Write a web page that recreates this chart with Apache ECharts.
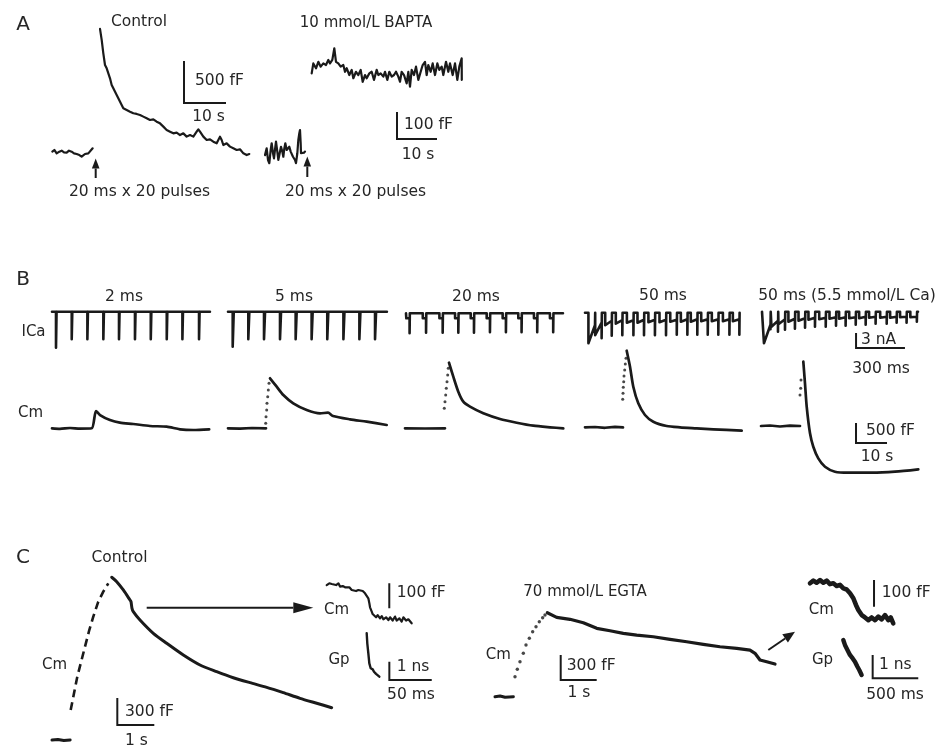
<!DOCTYPE html>
<html><head><meta charset="utf-8">
<script src="https://cdn.jsdelivr.net/npm/echarts@6.0.0/dist/echarts.min.js"></script>
<style>html,body{margin:0;padding:0;background:#fff}#c{width:941px;height:745px}</style>
</head><body><div id="c"></div><script>
// ================= DATA =================
// Panel A : time (s), capacitance change (fF)
const aCtrlPre = [[0.08,4],[0.56,24],[1.11,-16],[1.75,4],[2.30,16],[2.86,-4],[3.49,-8],[4.05,16],[4.68,4],[5.24,-16],[5.87,-24],[6.51,-36],[7.06,-56],[7.46,-36],[7.86,-24],[8.25,-40],[8.65,-16],[9.05,-8],[9.68,44]];
const aCtrlPost = [[11.43,1465],[11.83,1334],[12.22,1175],[12.62,1036],[13.02,996],[13.41,977],[13.81,877],[14.21,798],[14.60,758],[15.0,738],[15.40,679],[15.79,639],[16.19,619],[16.59,560],[16.98,520],[17.78,500],[18.57,480],[19.37,461],[20.16,453],[20.95,441],[21.75,421],[22.54,401],[23.33,381],[24.13,389],[24.92,361],[25.71,341],[26.51,302],[27.30,262],[28.10,242],[28.89,222],[29.68,230],[30.48,202],[31.27,222],[32.06,183],[32.86,202],[33.65,183],[34.44,242],[34.84,270],[35.24,242],[36.03,183],[36.83,143],[37.62,151],[38.41,123],[39.21,103],[40.0,183],[40.40,143],[40.79,83],[41.59,103],[42.38,64],[43.17,44],[43.97,24],[44.76,32],[45.56,-16],[46.35,-36],[46.98,-24]];
const aBaptaPre = [[0,-19],[0.42,6],[0.75,-37],[1.08,-49],[1.42,0],[1.67,25],[2.0,-12],[2.25,-31],[2.58,12],[2.75,31],[3.08,-6],[3.33,-37],[3.67,-12],[4.0,12],[4.33,-6],[4.58,-25],[4.83,6],[5.08,25],[5.42,0],[5.58,-6],[5.83,6],[6.08,12],[6.42,-6],[6.67,-12],[7.0,-25],[7.25,-25],[7.5,-37],[7.75,-49],[8.08,-12],[8.33,37],[8.58,62],[8.75,74],[8.92,25],[9.0,-12],[9.25,-19],[9.42,-15],[9.75,-10],[10.0,-6]];
const aBaptaPost = [[-0.08,-20],[0.33,17],[1.0,-1],[1.58,23],[2.17,5],[2.83,17],[3.5,11],[4.08,30],[4.5,17],[5.08,30],[5.58,73],[6.0,23],[6.58,17],[7.17,5],[7.83,11],[8.25,-14],[8.67,-1],[9.33,-26],[9.92,-7],[10.33,-38],[11.0,-14],[11.58,-26],[12.17,-7],[12.67,-51],[13.25,-26],[13.67,-38],[14.33,-20],[14.92,-14],[15.5,-44],[16.17,-7],[16.58,-26],[17.17,-20],[17.83,-32],[18.25,-14],[18.83,-44],[19.33,-14],[19.92,-32],[20.5,-26],[21.0,-14],[21.58,-32],[22.0,-51],[22.42,-14],[23.0,-26],[23.67,-57],[24.08,-14],[24.5,-69],[24.92,-7],[25.5,-26],[26.0,5],[26.58,-44],[27.17,-14],[27.67,11],[28.25,23],[28.67,-26],[29.08,11],[29.67,-14],[30.17,17],[30.75,-26],[31.33,17],[31.83,-7],[32.42,5],[32.83,-26],[33.5,23],[34.08,-14],[34.5,17],[35.17,-26],[35.75,17],[36.33,-44],[36.83,5],[37.42,36],[37.45,-44]];

// Panel B, ICa : pulse onsets (ms), current amplitudes (nA)
const ica2On = [24.5,121,217,315,411,509,606,704,800,902];
const ica2Peak = [7.2,5.5,5.5,5.5,5.5,5.5,5.5,5.5,5.5,5.5];
const ica5On = [28.8,124.5,220.9,319,415,513,609,708,806,902];
const ica5Peak = [7.0,5.5,5.5,5.5,5.5,5.5,5.5,5.5,5.5,5.5];
const ica20On = [2,103,205,301,397,495,593,689,785,883];
const ica20Plat = [1.0,1.0,1.0,1.0,1.0,1.0,1.0,1.0,1.0,1.0];
const ica20Tail = [4.0,3.9,3.9,3.9,3.9,3.8,3.8,3.8,3.8,3.8];
const ica50On = [21,62,124,189,257,322,389,457,523,588,649,713,778,846,907];
const ica50PlatStart = [6.1,4.5,2.5,2.2,2.0,2.0,1.9,1.9,1.8,1.8,1.8,1.7,1.7,1.7,1.7];
const ica50PlatEnd = [2.5,2.0,1.6,1.5,1.5,1.4,1.4,1.4,1.4,1.3,1.3,1.3,1.3,1.3,1.3];
const ica50Tail = [3.0,5.1,4.6,4.5,4.5,4.5,4.5,4.5,4.4,4.4,4.4,4.4,4.4,4.4,4.4];
const ica55On = [12,58,101,162,224,285,351,414,473,535,596,657,725,786,847,910];
const ica55PlatStart = [6.3,3.0,2.5,2.0,1.8,1.6,1.5,1.4,1.4,1.3,1.3,1.2,1.2,1.2,1.1,1.1];
const ica55PlatEnd = [2.6,1.8,1.5,1.4,1.3,1.2,1.2,1.1,1.1,1.1,1.0,1.0,1.0,1.0,1.0,1.0];
const ica55Tail = [3.5,4.0,3.6,3.4,3.2,3.0,3.0,2.8,2.8,2.6,2.6,2.4,2.4,2.2,2.2,2.0];
const icaPulseMs = [2,5,20,40,40];
const icaEndMs = [969,975,963,951,957];

// Panel B, Cm : time (s), capacitance change (fF)
const cm2 = [[0,0],[2.58,-12],[5.81,8],[9.03,-8],[12.8,0],[14.2,432],[15.5,332],[18.7,207],[21.9,140],[26.2,108],[31.6,58],[37.0,40],[41.3,-25],[45.6,-42],[50.7,-25]];
const cm5Pre = [[0,0],[3.87,-8],[7.74,8],[12.26,0]];
const cm5Dots = [[12.16,125],[12.26,290],[12.48,458],[12.58,625],[12.81,790],[13.0,958],[13.23,1125]];
const cm5Post = [[13.55,1250],[15.71,1040],[17.84,833],[21.06,625],[25.39,458],[29.68,375],[32.26,390],[33.87,308],[39.35,225],[44.74,165],[51.19,83]];
const cm20Pre = [[0,0],[6.45,-5],[12.9,0]];
const cm20Dots = [[12.68,500],[12.9,665],[13.13,833],[13.32,1000],[13.55,1165],[13.77,1333],[13.97,1500]];
const cm20Post = [[14.19,1640],[15.58,1290],[17.19,915],[18.81,665],[20.97,540],[25.26,375],[30.65,233],[36.03,140],[41.39,65],[46.77,25],[51.06,0]];
const cm50Pre = [[0,0],[3.23,8],[6.45,-12],[9.68,12],[12.26,0]];
const cm50Dots = [[12.16,700],[12.26,850],[12.35,1000],[12.48,1140],[12.58,1283],[12.81,1433],[13.0,1583],[13.23,1725]];
const cm50Post = [[13.45,1915],[14.52,1515],[15.58,1015],[17.19,600],[19.35,308],[22.03,140],[26.35,33],[30.65,0],[36.03,-25],[41.39,-50],[50.55,-85]];
const cm55Pre = [[0,0],[2.9,12],[6.13,-12],[9.35,8],[12.58,0]];
const cm55Dots = [[12.58,775],[12.81,943],[12.9,1150]];
const cm55Post = [[13.65,1608],[14.19,1068],[14.74,483],[15.81,-183],[16.87,-518],[18.48,-808],[20.65,-1018],[23.87,-1143],[28.16,-1168],[35.71,-1168],[43.23,-1143],[50.74,-1083]];

// Panel C : time (s), capacitance change (fF); insets time (ms), fF / nS
const c1Pre = [[0,0],[0.16,6],[0.32,-6],[0.49,0]];
const c1Rise = [[0.505,333],[0.595,519],[0.684,704],[0.776,852],[0.892,1037],[1.008,1222],[1.116,1370],[1.251,1537],[1.386,1648],[1.522,1741]];
const c1Decay = [[1.614,1808],[1.749,1759],[1.927,1667],[2.108,1555],[2.135,1537],[2.162,1463],[2.197,1426],[2.378,1333],[2.738,1185],[3.1,1074],[3.549,944],[4.0,833],[4.451,759],[4.9,692],[5.351,637],[5.803,585],[6.251,526],[6.703,463],[7.154,408],[7.559,359]];
const c1InsetCm = [[0,-7],[3.1,0],[5.9,-3],[7.9,3],[11.0,-7],[13.8,0],[15.7,-13],[18.9,-11],[21.6,-16],[23.6,-20],[26.7,-16],[29.5,-27],[31.4,-24],[34.6,-31],[37.3,-27],[39.3,-33],[42.5,-31],[45.2,-40],[47.2,-47],[49.1,-60],[50.3,-80],[51.1,-96],[53.1,-113],[54.2,-123],[55.8,-117],[58.2,-136],[60.1,-127],[62.9,-140],[64.9,-131],[66.8,-144],[70.0,-136],[72.7,-147],[74.7,-136],[77.8,-149],[80.6,-133],[82.5,-149],[85.7,-140],[88.4,-153],[90.4,-136],[93.6,-149],[96.3,-144],[100.2,-160]];
const c1InsetGp = [[0,0],[0.7,-0.55],[1.9,-1.09],[3.1,-1.64],[4.7,-1.91],[7.1,-1.97],[8.6,-2.10],[11.0,-2.22],[12.5,-2.28],[14.9,-2.37]];
const c2Pre = [[0,0],[0.14,8],[0.28,-7],[0.51,0]];
const c2Dots = [[0.556,240],[0.620,329],[0.694,420],[0.787,521],[0.861,620],[0.954,701],[1.046,780],[1.139,840],[1.231,900],[1.324,948],[1.389,980]];
const c2Decay = [[1.453,1008],[1.714,953],[2.083,929],[2.453,888],[2.825,821],[3.194,792],[3.564,761],[3.936,740],[4.397,720],[4.861,689],[5.325,660],[5.786,629],[6.25,600],[6.714,581],[7.083,560],[7.222,521],[7.361,440],[7.547,420],[7.778,392]];
const c2InsetCm = [[0,0],[37,10],[73,2],[110,12],[146,2],[183,10],[219,-3],[256,0],[292,-10],[329,-6],[366,-19],[402,-23],[439,-37],[475,-56],[504,-81],[530,-100],[567,-119],[603,-128],[640,-138],[676,-128],[713,-138],[749,-125],[786,-135],[822,-119],[859,-138],[885,-128],[913,-150]];
const c2InsetGp = [[0,0],[18,-0.21],[37,-0.29],[55,-0.5],[73,-0.64],[103,-0.79],[128,-0.93],[154,-1.14],[175,-1.29],[201,-1.5]];

// Scale bar values [time, amplitude]
const scaleA1 = [10,500], scaleA2 = [10,100];
const scaleBi = [300,3], scaleBm = [10,500];
const scaleC1 = [1,300], scaleC1m = [0,100], scaleC1g = [50,1];
const scaleC2 = [1,300], scaleC2m = [0,100], scaleC2g = [500,1];

// Text
const labels = [
 ['A',23,25,'center',20],['Control',139,22,'center',15.5],['10 mmol/L BAPTA',366,23,'center',15],
 ['500 fF',195,81,'left',15.5],['10 s',208.5,117,'center',15.5],['100 fF',404,125,'left',15.5],['10 s',418,155,'center',15.5],
 ['20 ms x 20 pulses',139.5,192,'center',15.5],['20 ms x 20 pulses',355.5,192,'center',15.5],
 ['B',23,279.5,'center',20],['2 ms',124,297,'center',15.5],['5 ms',294,297,'center',15.5],['20 ms',476,297,'center',15.5],
 ['50 ms',663,296,'center',15.5],['50 ms (5.5 mmol/L Ca)',847,296,'center',15.5],
 ['ICa',33.5,332,'center',15],['Cm',30.5,413,'center',15],
 ['3 nA',861,340,'left',15.5],['300 ms',881,369,'center',15.5],['500 fF',866,431,'left',15.5],['10 s',877,457,'center',15.5],
 ['C',23,558,'center',20],['Control',119.5,558,'center',15.5],['Cm',54.5,665,'center',15],
 ['300 fF',125,712,'left',15.5],['1 s',125,741,'left',15.5],
 ['Cm',336.5,610,'center',15],['100 fF',396.7,593,'left',15.5],['Gp',339,660,'center',15],['1 ns',396.7,667,'left',15.5],['50 ms',411,695,'center',15.5],
 ['70 mmol/L EGTA',585,592,'center',15],['Cm',498.3,655,'center',15],['300 fF',566.7,666,'left',15.5],['1 s',579,693,'center',15.5],
 ['Cm',821.3,610,'center',15],['100 fF',881.7,593,'left',15.5],['Gp',822.5,660,'center',15],['1 ns',879,665,'left',15.5],['500 ms',895,695,'center',15.5]
];

// ================= LAYOUT =================
const INK = '#1a1a1a', TXT = '#262626', FONT = '"DejaVu Sans", sans-serif';
// pixel position of each frame's (0,0), pixels per unit, unit ranges
const frames = {
  A1:  {ox:52,    oy:152,   sx:4.2,    sy:0.084,  xr:[-1,48],    yr:[-400,1550]},
  A2L: {ox:265,   oy:150,   sx:4.0,    sy:0.27,   xr:[-1,11],    yr:[-70,90]},
  A2R: {ox:312,   oy:68,    sx:4.0,    sy:0.27,   xr:[-1,38.5],  yr:[-280,90]},
  I2:  {ox:52,    oy:311.7, sx:0.163,  sy:5.0,    xr:[-5,985],   yr:[-8,1]},
  I5:  {ox:228,   oy:311.7, sx:0.163,  sy:5.0,    xr:[-5,985],   yr:[-8,1]},
  I20: {ox:406,   oy:313.3, sx:0.163,  sy:5.0,    xr:[-5,985],   yr:[-8,1]},
  I50: {ox:585,   oy:312.7, sx:0.163,  sy:5.0,    xr:[-5,985],   yr:[-8,1]},
  I55: {ox:762,   oy:311.7, sx:0.163,  sy:5.0,    xr:[-5,985],   yr:[-8,1]},
  M2:  {ox:52,    oy:428.3, sx:3.1,    sy:0.04,   xr:[-1,52],    yr:[-1300,2000]},
  M5:  {ox:228,   oy:428.3, sx:3.1,    sy:0.04,   xr:[-1,52],    yr:[-1300,2000]},
  M20: {ox:405,   oy:428.3, sx:3.1,    sy:0.04,   xr:[-1,52],    yr:[-1300,2000]},
  M50: {ox:585,   oy:427.3, sx:3.1,    sy:0.04,   xr:[-1,52],    yr:[-1300,2000]},
  M55: {ox:761,   oy:426,   sx:3.1,    sy:0.04,   xr:[-1,52],    yr:[-1300,2000]},
  C1:  {ox:52,    oy:740,   sx:37,     sy:0.09,   xr:[-0.1,7.8], yr:[-40,1900]},
  C1m: {ox:326.7, oy:583.3, sx:0.848,  sy:0.25,   xr:[-2,102],   yr:[-170,15]},
  C1g: {ox:366.7, oy:633.3, sx:0.848,  sy:18.3,   xr:[-2,80],    yr:[-2.7,0.2]},
  C2:  {ox:495,   oy:696.7, sx:36,     sy:0.0833, xr:[-0.2,7.9], yr:[-40,1100]},
  C2m: {ox:810,   oy:583.3, sx:0.0912, sy:0.267,  xr:[-10,930],  yr:[-170,25]},
  C2g: {ox:843.3, oy:640,   sx:0.0912, sy:23.3,   xr:[-10,830],  yr:[-1.8,0.2]}
};
// scale bar corners, in the units of the frame they sit in
const scaleBars = [
  ['A1', 31.43, 583, scaleA1], ['A2R', 21.25, -263, scaleA2],
  ['I55', 577, -7.26, scaleBi], ['M55', 30.65, -425, scaleBm],
  ['C1', 1.765, 167, scaleC1], ['C1m', 73.8, -100, scaleC1m], ['C1g', 26.7, -2.55, scaleC1g],
  ['C2', 1.825, 200, scaleC2], ['C2m', 702, -88, scaleC2m], ['C2g', 322, -1.64, scaleC2g]
];
// stimulus arrows (annotation), tail -> tip in pixels, head length, half width
const arrows = [
  [[95.7,178],[95.7,158.5],10,3.8], [[307.3,177],[307.3,156.5],10,3.8],
  [[146.7,607.7],[313.3,607.7],20,5.5], [[768.3,650],[795,631.7],12,5]
];

// ================= BUILD =================
function buildICa(on, dur, pS, pE, tail, tEnd) {
  const d = [[0,0]];
  for (let i = 0; i < on.length; i++) {
    const s = on[i], e = s + dur;
    const last = d[d.length-1][0];
    d.push([Math.max(s,last),0],[Math.max(s,last),-pS[i]],[e,-pE[i]],[e,-tail[i]],[e+1.5,0]);
  }
  d.push([tEnd,0]);
  return d;
}
const keys = Object.keys(frames);
const grid = [], xAxis = [], yAxis = [];
keys.forEach((k,i) => {
  const f = frames[k];
  grid.push({left: f.ox + f.xr[0]*f.sx, width: (f.xr[1]-f.xr[0])*f.sx,
             top: f.oy - f.yr[1]*f.sy, height: (f.yr[1]-f.yr[0])*f.sy, show:false, containLabel:false, outerBoundsMode:'none'});
  xAxis.push({type:'value', gridIndex:i, min:f.xr[0], max:f.xr[1], show:false});
  yAxis.push({type:'value', gridIndex:i, min:f.yr[0], max:f.yr[1], show:false});
});
const series = [];
function line(k, data, w, extra) {
  const i = keys.indexOf(k);
  series.push(Object.assign({type:'line', xAxisIndex:i, yAxisIndex:i, data, showSymbol:false, symbol:'none',
    clip:false, silent:true, lineStyle:{color:INK, width:w, join:'round', cap:'round'}}, extra||{}));
}
function dots(k, data, size) {
  const i = keys.indexOf(k);
  series.push({type:'scatter', xAxisIndex:i, yAxisIndex:i, data, symbol:'circle', symbolSize:size,
    clip:false, silent:true, itemStyle:{color:INK}});
}
// Panel A
line('A1', aCtrlPre, 2.2); line('A1', aCtrlPost, 2.2);
line('A2L', aBaptaPre, 2.2); line('A2R', aBaptaPost, 2.2);
// Panel B ICa
line('I2',  buildICa(ica2On,  icaPulseMs[0], ica2Peak, ica2Peak, ica2Peak, icaEndMs[0]), 2.6);
line('I5',  buildICa(ica5On,  icaPulseMs[1], ica5Peak, ica5Peak, ica5Peak, icaEndMs[1]), 2.6);
line('I20', buildICa(ica20On, icaPulseMs[2], ica20Plat, ica20Plat, ica20Tail, icaEndMs[2]), 2.6);
line('I50', buildICa(ica50On, icaPulseMs[3], ica50PlatStart, ica50PlatEnd, ica50Tail, icaEndMs[3]), 2.6);
line('I55', buildICa(ica55On, icaPulseMs[4], ica55PlatStart, ica55PlatEnd, ica55Tail, icaEndMs[4]), 2.6);
// Panel B Cm
const sm = {smooth:0.25};
line('M2', cm2, 2.7, sm);
line('M5', cm5Pre, 2.7); dots('M5', cm5Dots, 3); line('M5', cm5Post, 2.7, sm);
line('M20', cm20Pre, 2.7); dots('M20', cm20Dots, 3); line('M20', cm20Post, 2.7, sm);
line('M50', cm50Pre, 2.7); dots('M50', cm50Dots, 3); line('M50', cm50Post, 2.7, sm);
line('M55', cm55Pre, 2.7); dots('M55', cm55Dots, 3); line('M55', cm55Post, 2.7, sm);
// Panel C
line('C1', c1Pre, 3); line('C1', c1Rise, 2.6, {lineStyle:{color:INK, width:2.6, type:[8,5]}}); line('C1', c1Decay, 3, sm);
line('C1m', c1InsetCm, 2.2); line('C1g', c1InsetGp, 2.4);
line('C2', c2Pre, 3); dots('C2', c2Dots, 3.4); line('C2', c2Decay, 3.2);
line('C2m', c2InsetCm, 4.6); line('C2g', c2InsetGp, 4.4);
// scale bars
scaleBars.forEach(([k, x, y, v]) => {
  const d = [[x, y + v[1]], [x, y]];
  if (v[0]) d.push([x + v[0], y]);
  line(k, d, 2, {lineStyle:{color:INK, width:2, join:'miter', cap:'butt'}});
});
// graphics: texts and arrows
const graphic = [];
labels.forEach(([t,x,y,al,fs]) => graphic.push({type:'text', x, y, silent:true,
  style:{text:t, fill:TXT, font: fs + 'px ' + FONT, fontSize:fs, fontFamily:FONT, textAlign:al, align:al, textVerticalAlign:'middle', verticalAlign:'middle'}}));
arrows.forEach(([a,b,hl,hw]) => {
  const dx=b[0]-a[0], dy=b[1]-a[1], L=Math.hypot(dx,dy), ux=dx/L, uy=dy/L;
  const bx=b[0]-ux*hl, by=b[1]-uy*hl;
  graphic.push({type:'polyline', silent:true, shape:{points:[a,[bx,by]]}, style:{stroke:INK, lineWidth:2, fill:null}});
  graphic.push({type:'polygon', silent:true, shape:{points:[b,[bx-uy*hw,by+ux*hw],[bx+uy*hw,by-ux*hw]]}, style:{fill:INK}});
});
const chart = echarts.init(document.getElementById('c'), null, {renderer:'canvas'});
chart.setOption({animation:false, backgroundColor:'#fff', grid, xAxis, yAxis, series, graphic});
</script></body></html>
